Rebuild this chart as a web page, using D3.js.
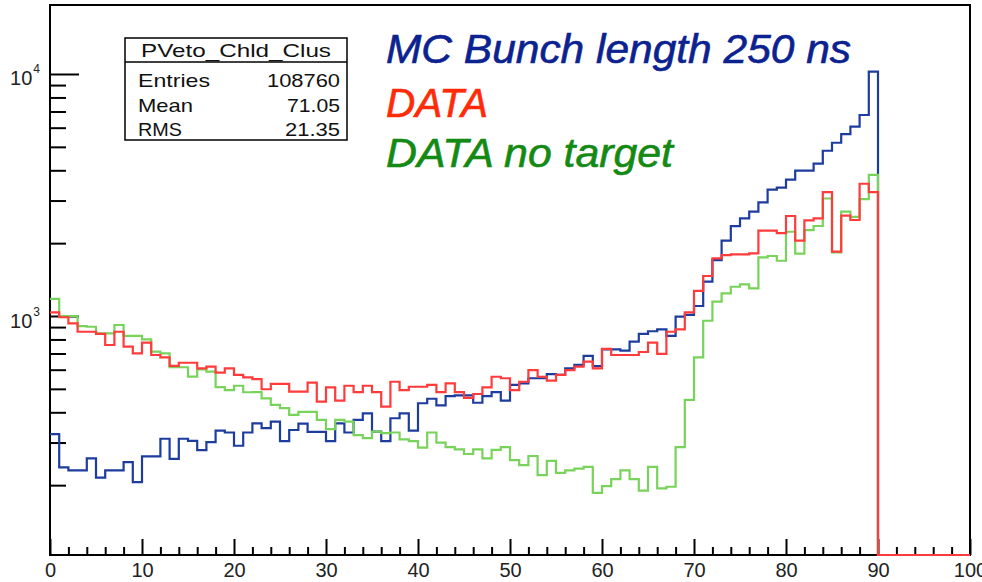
<!DOCTYPE html>
<html>
<head>
<meta charset="utf-8">
<script src="https://cdn.jsdelivr.net/npm/d3@7"></script>
<style>
  html, body { margin: 0; padding: 0; background: #fff; }
  svg { display: block; }
</style>
</head>
<body>
<svg id="chart" width="982" height="582"></svg>
<script>
// Cluster time distribution, 100 bins of width 1 from 0 to 100 (bins 90-99 are empty)
const binLow = d3.range(0, 100);

const mcBunch250 = [
  325, 237, 230, 230, 258, 215, 230, 230, 249, 206,
  263, 263, 311, 257, 311, 305, 279, 301, 336, 330,
  291, 330, 360, 344, 366, 304, 338, 359, 332, 332,
  304, 360, 330, 372, 396, 333, 304, 378, 396, 336,
  436, 455, 427, 467, 470, 470, 438, 467, 485, 447,
  519, 527, 553, 553, 575, 571, 608, 628, 684, 621,
  728, 728, 719, 783, 843, 865, 881, 827, 994, 1010,
  1100, 1386, 1703, 2047, 2350, 2533, 2700, 2950, 3330, 3390,
  3660, 3985, 3985, 4260, 4818, 5200, 5648, 6056, 6770, 10220,
  0, 0, 0, 0, 0, 0, 0, 0, 0, 0
];

const dataRun = [
  1036, 988, 933, 861, 861, 843, 759, 861, 747, 701,
  776, 690, 675, 622, 641, 641, 608, 618, 583, 608,
  571, 558, 548, 498, 524, 524, 487, 487, 531, 443,
  507, 447, 515, 485, 515, 485, 422, 535, 494, 510,
  510, 519, 485, 527, 485, 459, 476, 507, 561, 553,
  494, 535, 598, 561, 541, 571, 598, 618, 648, 608,
  731, 690, 690, 690, 710, 776, 697, 861, 881, 1036,
  1270, 1463, 1731, 1786, 1798, 1798, 1816, 2255, 2255, 2200,
  2589, 2047, 2485, 2533, 3250, 1845, 2600, 2493, 3520, 3250,
  0, 0, 0, 0, 0, 0, 0, 0, 0, 0
];

const dataNoTarget = [
  1176, 1000, 1000, 909, 903, 848, 848, 918, 827, 827,
  801, 712, 701, 614, 614, 562, 602, 589, 508, 494,
  515, 484, 485, 457, 429, 416, 390, 402, 402, 372,
  341, 372, 366, 322, 313, 333, 328, 330, 309, 304,
  286, 330, 300, 287, 281, 269, 281, 258, 280, 287,
  254, 242, 264, 220, 252, 225, 230, 234, 238, 186,
  198, 212, 230, 212, 190, 238, 194, 197, 287, 450,
  675, 956, 1146, 1241, 1321, 1351, 1300, 1748, 1770, 1692,
  2229, 1810, 2265, 2355, 3059, 1830, 2700, 2570, 3040, 3829,
  0, 0, 0, 0, 0, 0, 0, 0, 0, 0
];

const xMajorTicks = d3.range(0, 101, 10);
const xMinorTicks = d3.range(0, 101, 2).filter(v => v % 10 !== 0);
const yMajorTicks = [1000, 10000];
const yMinorTicks = [200, 300, 400, 500, 600, 700, 800, 900,
                     2000, 3000, 4000, 5000, 6000, 7000, 8000, 9000];

const statsTitle = "PVeto_Chld_Clus";
const statsLabels = ["Entries", "Mean", "RMS"];
const statsValues = ["108760", "71.05", "21.35"];

const legendLabels = ["MC Bunch length 250 ns", "DATA", "DATA no target"];

// ---------------------------------------------------------------------------
const svg = d3.select("#chart");
const W = 982, H = 582;
const frame = { left: 50, right: 970, top: 5, bottom: 555 };

const x = d3.scaleLinear().domain([0, 100]).range([frame.left, frame.right]);
const y = d3.scaleLog().domain([102.9, 19280]).range([frame.bottom, frame.top]);
const yOf = v => y(Math.max(v, y.domain()[0]));

svg.append("rect").attr("width", W).attr("height", H).attr("fill", "#fff");

// frame
svg.append("rect")
  .attr("x", frame.left).attr("y", frame.top)
  .attr("width", frame.right - frame.left).attr("height", frame.bottom - frame.top)
  .attr("fill", "none").attr("stroke", "#000").attr("stroke-width", 2);

const tickFont = "'Liberation Sans', Arial, Helvetica, sans-serif";

// x axis: ticks point into the plot
const gx = svg.append("g").attr("transform", `translate(0,${frame.bottom})`);
gx.call(d3.axisBottom(x).tickValues(xMajorTicks).tickSize(-16).tickPadding(8).tickFormat(d3.format("d")));
gx.selectAll(".tick text").attr("font-family", tickFont).attr("font-size", 20).attr("fill", "#222");
gx.append("g").call(d3.axisBottom(x).tickValues(xMinorTicks).tickSize(-8).tickFormat(""));
gx.selectAll(".domain").remove();
gx.selectAll("line").attr("stroke", "#000").attr("stroke-width", 2);

// y axis (log): ticks point into the plot, labels as 10^n
const gy = svg.append("g").attr("transform", `translate(${frame.left},0)`);
gy.call(d3.axisLeft(y).tickValues(yMajorTicks).tickSize(-29).tickPadding(10));
gy.selectAll(".tick text")
  .attr("font-family", tickFont).attr("fill", "#222").attr("dy", null)
  .each(function (d) {
    const t = d3.select(this).text(null).attr("y", 11);
    t.append("tspan").attr("font-size", 20).text("10");
    t.append("tspan").attr("font-size", 12).attr("dy", -12).attr("dx", 1)
      .text(Math.round(Math.log10(d)));
  });
const gyMinor = gy.append("g").call(d3.axisLeft(y).tickValues(yMinorTicks).tickSize(-16).tickFormat(""));
gyMinor.selectAll("text").remove();
gy.selectAll(".domain").remove();
gy.selectAll("line").attr("stroke", "#000").attr("stroke-width", 2);

// histograms (step outlines)
svg.append("clipPath").attr("id", "plotClip")
  .append("rect")
  .attr("x", frame.left).attr("y", frame.top - 1)
  .attr("width", frame.right - frame.left + 1).attr("height", frame.bottom - frame.top + 3);

const stepLine = d3.line()
  .x(d => x(d[0]))
  .y(d => yOf(d[1]))
  .curve(d3.curveStepAfter);

function histPoints(values) {
  const pts = binLow.map((b, i) => [b, values[i]]);
  pts.push([100, values[values.length - 1]]);
  return pts;
}

const series = [
  { values: mcBunch250, color: "#1d3c9e" },
  { values: dataNoTarget, color: "#78d35a" },
  { values: dataRun, color: "#ff3b3b" }
];

const gh = svg.append("g").attr("clip-path", "url(#plotClip)");
series.forEach(s => {
  gh.append("path")
    .attr("d", stepLine(histPoints(s.values)))
    .attr("fill", "none")
    .attr("stroke", s.color)
    .attr("stroke-width", 2.2)
    .attr("stroke-linejoin", "miter");
});

// statistics box
const sb = svg.append("g");
sb.append("rect")
  .attr("x", 125).attr("y", 38).attr("width", 222).attr("height", 102)
  .attr("fill", "#fff").attr("stroke", "#000").attr("stroke-width", 1.5);
sb.append("line")
  .attr("x1", 125).attr("x2", 347).attr("y1", 62).attr("y2", 62)
  .attr("stroke", "#000").attr("stroke-width", 1.5);
sb.append("text")
  .attr("x", 236).attr("y", 57).attr("text-anchor", "middle")
  .attr("font-family", tickFont).attr("font-size", 19).attr("fill", "#111")
  .attr("textLength", 190).attr("lengthAdjust", "spacingAndGlyphs")
  .text(statsTitle);
const labelWidths = [72, 55, 44];
const valueWidths = [73, 53, 55];
statsLabels.forEach((lab, i) => {
  const by = 87 + i * 24.5;
  sb.append("text")
    .attr("x", 138).attr("y", by)
    .attr("font-family", tickFont).attr("font-size", 19).attr("fill", "#111")
    .attr("textLength", labelWidths[i]).attr("lengthAdjust", "spacingAndGlyphs")
    .text(lab);
  sb.append("text")
    .attr("x", 340).attr("y", by).attr("text-anchor", "end")
    .attr("font-family", tickFont).attr("font-size", 19).attr("fill", "#111")
    .attr("textLength", valueWidths[i]).attr("lengthAdjust", "spacingAndGlyphs")
    .text(statsValues[i]);
});

// legend text
const legendColors = ["#0b2290", "#ff2b08", "#148a14"];
const legendWidths = [465, 102, 287];
const legendBase = [63, 117, 167];
legendLabels.forEach((lab, i) => {
  svg.append("text")
    .attr("x", 386).attr("y", legendBase[i])
    .attr("font-family", "'Liberation Sans', Arial, Helvetica, sans-serif")
    .attr("font-style", "italic")
    .attr("font-size", 40)
    .attr("fill", legendColors[i])
    .attr("stroke", legendColors[i]).attr("stroke-width", 0.6)
    .attr("textLength", legendWidths[i]).attr("lengthAdjust", "spacingAndGlyphs")
    .text(lab);
});
</script>
</body>
</html>
